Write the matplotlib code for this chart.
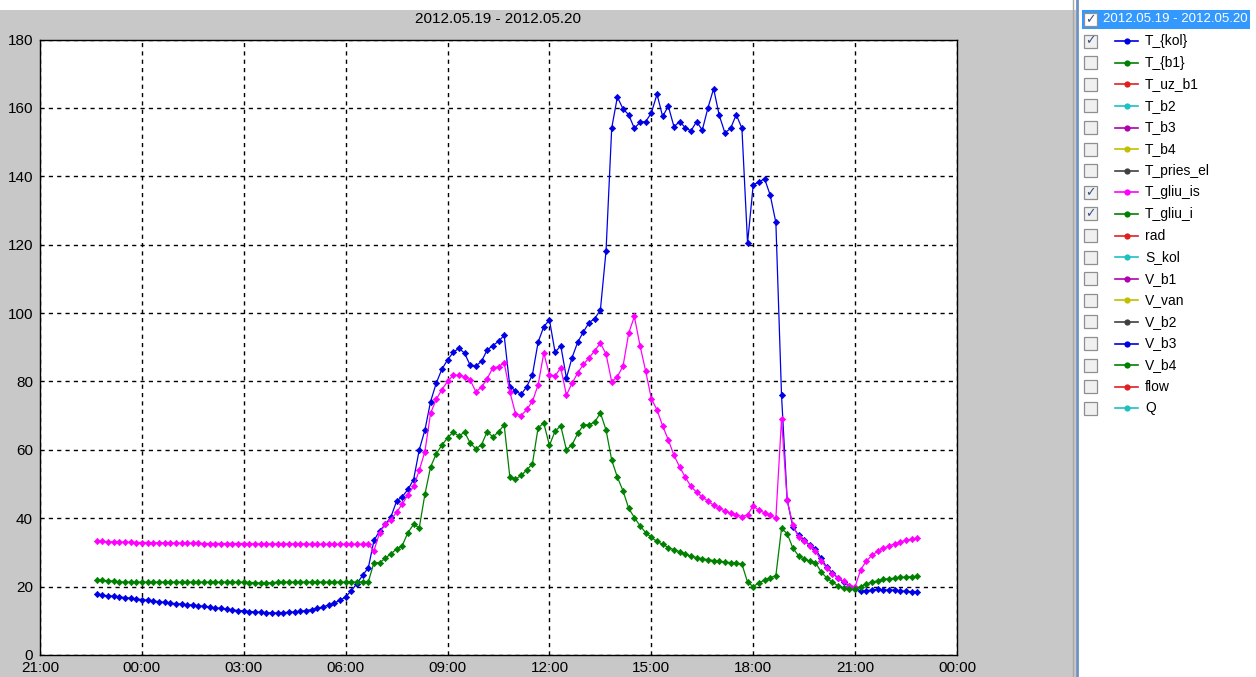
import numpy as np
import pandas as pd
import matplotlib
matplotlib.use('Agg')
import matplotlib.pyplot as plt
import matplotlib.dates as mdates
from matplotlib.lines import Line2D
from matplotlib.patches import Rectangle

plt.rcParams['font.family'] = ['Liberation Sans', 'DejaVu Sans']

# ---------------- data ----------------
title = '2012.05.19 - 2012.05.20'
start_time = '2012-05-19 22:40'
sample_step = '10min'

t_kol = [
    17.7, 17.5,
    17.3, 17.2, 17.0, 16.8, 16.6, 16.4,
    16.2, 16.0, 15.8, 15.6, 15.4, 15.2,
    15.0, 14.9, 14.7, 14.6, 14.4, 14.2,
    14.0, 13.8, 13.6, 13.4, 13.2, 13.0,
    12.9, 12.7, 12.6, 12.5, 12.4, 12.3,
    12.3, 12.4, 12.5, 12.6, 12.8, 13.0,
    13.3, 13.6, 14.1, 14.6, 15.2, 16.0,
    17.0, 18.8, 20.9, 23.3, 25.5, 33.5,
    36.3, 38.2, 40.4, 45.0, 46.3, 48.4,
    51.3, 60.0, 65.8, 74.1, 79.5, 83.6,
    86.3, 88.5, 89.7, 88.3, 84.7, 84.5,
    85.9, 89.2, 90.5, 91.7, 93.5, 78.5,
    77.3, 76.2, 78.5, 82.0, 91.5, 96.0,
    98.0, 88.5, 90.5, 81.0, 87.0, 91.5,
    94.5, 97.2, 98.4, 100.9, 118.2, 154.1,
    163.2, 159.7, 158.0, 154.0, 155.8, 156.0,
    158.5, 164.0, 157.5, 160.5, 154.5, 156.0,
    154.2, 153.3, 156.0, 153.5, 160.0, 165.6,
    157.8, 152.7, 154.0, 158.0, 154.1, 120.5,
    137.5, 138.3, 139.3, 134.5, 126.5, 76.0,
    45.3, 37.5, 35.0, 33.5, 32.1, 31.0,
    28.3, 25.6, 24.0, 22.5, 21.3, 20.2,
    19.3, 18.8, 18.8, 19.0, 19.2, 19.0,
    19.0, 18.9, 18.8, 18.6, 18.5, 18.4,
]

t_gliu_is = [
    33.2, 33.2,
    33.1, 33.1, 33.0, 33.0, 33.0, 32.9,
    32.9, 32.9, 32.8, 32.8, 32.8, 32.8,
    32.7, 32.7, 32.7, 32.7, 32.7, 32.6,
    32.6, 32.6, 32.6, 32.6, 32.6, 32.6,
    32.6, 32.5, 32.5, 32.5, 32.5, 32.5,
    32.5, 32.5, 32.5, 32.5, 32.5, 32.5,
    32.4, 32.4, 32.4, 32.4, 32.4, 32.4,
    32.4, 32.4, 32.4, 32.4, 32.4, 30.5,
    35.8, 38.2, 39.6, 41.8, 44.1, 46.9,
    49.3, 54.0, 59.5, 70.7, 74.8, 77.6,
    80.0, 81.8, 81.8, 81.4, 80.4, 77.0,
    78.3, 80.8, 84.0, 84.3, 85.5, 77.0,
    70.6, 70.0, 71.8, 74.2, 79.0, 88.3,
    82.0, 81.6, 84.0, 76.0, 79.5, 82.5,
    85.0, 86.9, 89.0, 91.2, 88.0, 79.9,
    81.4, 84.5, 94.1, 99.0, 90.5, 83.0,
    75.0, 71.7, 67.0, 62.9, 58.4, 55.0,
    52.0, 49.3, 47.6, 46.2, 45.0, 43.8,
    42.9, 42.1, 41.4, 40.9, 40.5, 41.0,
    43.6, 42.3, 41.6, 40.8, 40.0, 69.0,
    45.3, 38.0, 34.6, 33.4, 32.0, 30.5,
    27.5, 25.5, 23.8, 22.6, 21.5, 20.3,
    20.0, 25.0, 27.5, 29.2, 30.3, 31.2,
    31.9, 32.5, 33.1, 33.5, 33.9, 34.1,
]

t_gliu_i = [
    21.8, 21.8,
    21.7, 21.6, 21.4, 21.3, 21.3, 21.3,
    21.3, 21.3, 21.3, 21.3, 21.3, 21.3,
    21.3, 21.3, 21.3, 21.3, 21.3, 21.3,
    21.3, 21.3, 21.3, 21.3, 21.3, 21.3,
    21.3, 21.2, 21.2, 21.0, 21.0, 21.2,
    21.3, 21.3, 21.3, 21.3, 21.3, 21.3,
    21.3, 21.3, 21.3, 21.3, 21.3, 21.3,
    21.3, 21.3, 21.3, 21.4, 21.4, 27.0,
    27.0, 28.3, 29.6, 31.0, 32.0, 35.8,
    38.2, 37.2, 47.0, 55.0, 58.8, 61.4,
    63.5, 65.2, 64.0, 65.2, 62.0, 60.3,
    61.5, 65.3, 63.8, 65.2, 67.3, 52.1,
    51.4, 52.5, 54.1, 56.0, 66.5, 67.8,
    61.3, 65.5, 67.0, 60.0, 61.5, 64.8,
    67.2, 67.4, 68.1, 70.8, 65.8, 57.0,
    52.0, 48.0, 42.9, 40.2, 37.8, 35.8,
    34.4, 33.2, 32.4, 31.4, 30.8, 30.2,
    29.5, 28.9, 28.5, 28.1, 27.9, 27.6,
    27.4, 27.2, 27.0, 26.8, 26.6, 21.3,
    20.0, 21.1, 21.9, 22.6, 23.2, 37.0,
    35.5, 31.3, 29.0, 28.0, 27.5, 27.0,
    24.3, 22.5, 21.3, 20.2, 19.6, 19.2,
    19.2, 20.0, 20.8, 21.3, 21.7, 22.1,
    22.3, 22.5, 22.7, 22.8, 22.9, 23.0,
]

legend_names = ['T_{kol}', 'T_{b1}', 'T_uz_b1', 'T_b2', 'T_b3', 'T_b4', 'T_pries_el',
                'T_gliu_is', 'T_gliu_i', 'rad', 'S_kol', 'V_b1', 'V_van', 'V_b2',
                'V_b3', 'V_b4', 'flow', 'Q']
legend_colors = ['#0000e0', '#008000', '#e02020', '#20c0c0', '#b000b0', '#c0c000', '#404040',
                 '#ff00ff', '#008000', '#e02020', '#20c0c0', '#b000b0', '#c0c000', '#404040',
                 '#0000e0', '#008000', '#e02020', '#20c0c0']
legend_checked = [True, False, False, False, False, False, False,
                  True, True, False, False, False, False, False,
                  False, False, False, False]

x_start = '2012-05-19 21:00'
x_end = '2012-05-21 00:00'
y_ticks = [0, 20, 40, 60, 80, 100, 120, 140, 160, 180]

times = pd.date_range(start_time, periods=len(t_kol), freq=sample_step)

# ---------------- figure ----------------
W, H = 1256, 677
fig = plt.figure(figsize=(W / 100, H / 100), dpi=100, facecolor='#c8c8c8')


def fx(px):
    return px / W


def fy(py):
    return 1 - py / H


# white strip at top
fig.patches.append(Rectangle((0, fy(10)), 1, 10 / H, transform=fig.transFigure,
                             facecolor='white', edgecolor='none', zorder=-5))

ax = fig.add_axes([fx(40), fy(655), 917 / W, (655 - 39.5) / H])
ax.set_facecolor('white')

series = [(t_kol, '#0000e6'), (t_gliu_is, '#ff00ff'), (t_gliu_i, '#008000')]
for vals, col in series:
    ax.plot(times, vals, color=col, lw=0.9, marker='D', ms=3.2, mew=0.5, mec=col, zorder=3)

ax.set_xlim(pd.Timestamp(x_start), pd.Timestamp(x_end))
ax.set_ylim(0, 180)
ax.set_yticks(y_ticks)
ax.xaxis.set_major_locator(mdates.HourLocator(byhour=range(0, 24, 3)))
ax.xaxis.set_major_formatter(mdates.DateFormatter('%H:%M'))
ax.grid(True, color='black', linestyle=(0, (3, 3)), linewidth=1.0)
ax.tick_params(length=0, labelsize=11, colors='black')
ax.tick_params(axis='y', pad=5)
ax.tick_params(axis='x', pad=4)
for lbl in ax.get_yticklabels():
    lbl.set_verticalalignment('center_baseline')
for s in ax.spines.values():
    s.set_color('black')
    s.set_linewidth(1.0)

fig.text(fx(498), fy(19), title, ha='center', va='center', fontsize=11, color='black')

# ---------------- legend panel ----------------
fig.patches.append(Rectangle((fx(1076), 0), 1 - fx(1076), 1, transform=fig.transFigure,
                             facecolor='white', edgecolor='none', zorder=-4))
fig.lines.append(Line2D([fx(1073), fx(1073)], [0, 1], transform=fig.transFigure,
                        color='#a8a8a8', lw=1))
fig.lines.append(Line2D([fx(1076.5), fx(1076.5)], [0, 1], transform=fig.transFigure,
                        color='#7090c0', lw=2))

row_h = 21.6
y_head = 19.5
# header highlight
fig.patches.append(Rectangle((fx(1082), fy(y_head + 9.5)), fx(1250) - fx(1082), 19 / H,
                             transform=fig.transFigure, facecolor='#3399ff',
                             edgecolor='none', zorder=1))


def checkbox(yc, checked, on_blue=False):
    size = 13
    x0 = 1084
    fig.patches.append(Rectangle((fx(x0), fy(yc + size / 2)), size / W, size / H,
                                 transform=fig.transFigure,
                                 facecolor='#ffffff' if on_blue else '#f0f0f0',
                                 edgecolor='#8e8f8f', lw=0.9, zorder=2))
    if checked:
        fig.text(fx(x0 + size / 2), fy(yc), '\u2713', ha='center', va='center',
                 fontsize=9, color='#3b4f80', family=['DejaVu Sans'], zorder=3)


checkbox(y_head, True, on_blue=True)
fig.text(fx(1103), fy(y_head), title, ha='left', va='center', fontsize=9.5, color='white', zorder=3)

for i, (name, col, chk) in enumerate(zip(legend_names, legend_colors, legend_checked)):
    yc = y_head + row_h * (i + 1)
    checkbox(yc, chk)
    fig.lines.append(Line2D([fx(1115), fx(1138)], [fy(yc), fy(yc)], transform=fig.transFigure,
                            color=col, lw=1.2))
    fig.lines.append(Line2D([fx(1126.5)], [fy(yc)], transform=fig.transFigure,
                            color=col, marker='o', ms=4.5, mew=0))
    fig.text(fx(1145), fy(yc), name, ha='left', va='center', fontsize=10, color='black')

fig.savefig('out.png', dpi=100, facecolor=fig.get_facecolor())
